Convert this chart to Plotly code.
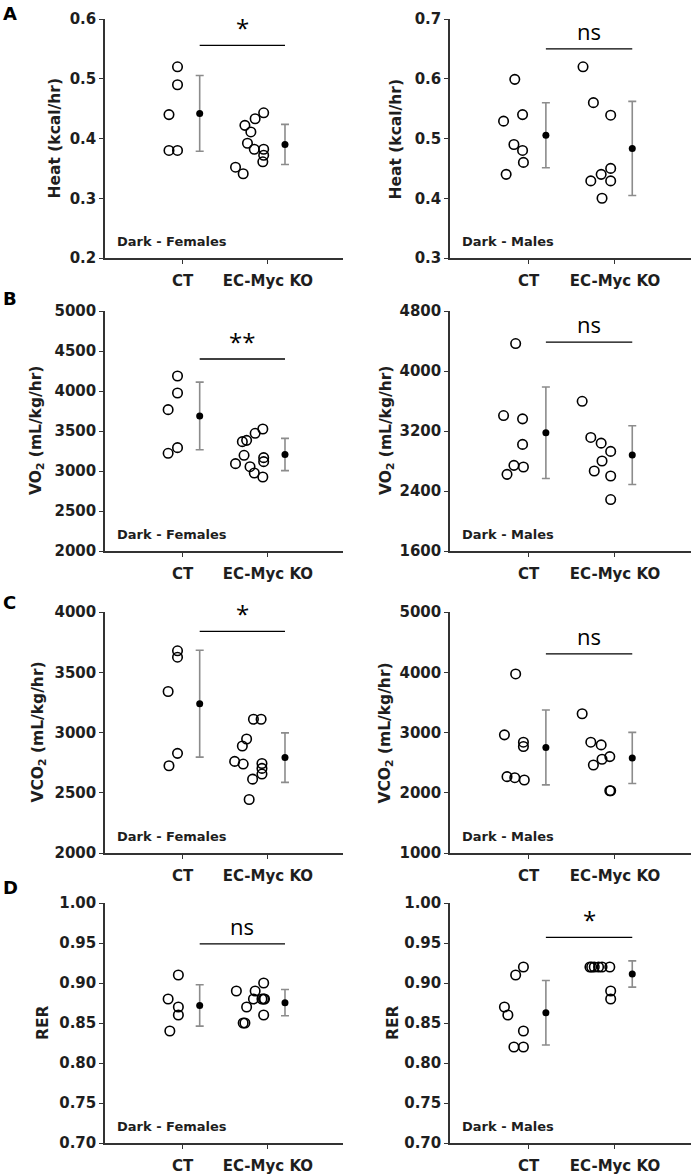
import numpy as np
import plotly.graph_objects as go

groups = ["CT", "EC-Myc KO"]

# values (dark phase)
heat_f_ct = [0.52, 0.49, 0.44, 0.38, 0.38]
heat_f_ko = [0.422, 0.411, 0.433, 0.443, 0.392, 0.382, 0.382, 0.372, 0.361, 0.352, 0.341]
heat_m_ct = [0.599, 0.529, 0.540, 0.490, 0.480, 0.460, 0.440]
heat_m_ko = [0.620, 0.560, 0.539, 0.450, 0.440, 0.429, 0.429, 0.400]

vo2_f_ct = [4188, 3975, 3767, 3292, 3221]
vo2_f_ko = [3092, 3196, 3367, 3383, 3471, 3525, 3054, 2975, 2925, 3167, 3117]
vo2_m_ct = [4366, 3406, 3362, 3021, 2742, 2720, 2622]
vo2_m_ko = [3596, 3114, 3038, 2928, 2800, 2667, 2600, 2286]

vco2_f_ct = [3678, 3625, 3340, 2827, 2724]
vco2_f_ko = [3110, 3110, 2946, 2888, 2760, 2738, 2743, 2702, 2655, 2613, 2444]
vco2_m_ct = [3972, 2961, 2839, 2767, 2267, 2250, 2211]
vco2_m_ko = [3311, 2839, 2794, 2600, 2556, 2461, 2033, 2033]

rer_f_ct = [0.91, 0.88, 0.87, 0.86, 0.84]
rer_f_ko = [0.89, 0.87, 0.85, 0.85, 0.89, 0.88, 0.90, 0.88, 0.88, 0.88, 0.86]
rer_m_ct = [0.92, 0.91, 0.87, 0.86, 0.84, 0.82, 0.82]
rer_m_ko = [0.92, 0.92, 0.92, 0.92, 0.92, 0.92, 0.89, 0.88]

# horizontal jitter of the open circles (fraction of group spacing)
heat_f_ct_dx = [-0.06, -0.06, -0.16, -0.16, -0.06]
heat_f_ko_dx = [-0.27, -0.2, -0.15, -0.05, -0.24, -0.16, -0.05, -0.05, -0.06, -0.38, -0.29]
heat_m_ct_dx = [-0.16, -0.29, -0.07, -0.17, -0.07, -0.06, -0.26]
heat_m_ko_dx = [-0.37, -0.25, -0.05, -0.05, -0.16, -0.28, -0.05, -0.15]
vo2_f_ct_dx = [-0.06, -0.06, -0.17, -0.06, -0.17]
vo2_f_ko_dx = [-0.38, -0.28, -0.3, -0.25, -0.15, -0.06, -0.21, -0.16, -0.06, -0.05, -0.05]
vo2_m_ct_dx = [-0.15, -0.29, -0.07, -0.07, -0.17, -0.06, -0.25]
vo2_m_ko_dx = [-0.38, -0.28, -0.16, -0.05, -0.15, -0.24, -0.05, -0.05]
vco2_f_ct_dx = [-0.06, -0.06, -0.17, -0.06, -0.16]
vco2_f_ko_dx = [-0.17, -0.08, -0.25, -0.3, -0.39, -0.29, -0.07, -0.07, -0.07, -0.18, -0.22]
vco2_m_ct_dx = [-0.15, -0.28, -0.06, -0.06, -0.25, -0.16, -0.05]
vco2_m_ko_dx = [-0.38, -0.28, -0.16, -0.06, -0.15, -0.25, -0.06, -0.05]
rer_f_ct_dx = [-0.05, -0.17, -0.05, -0.05, -0.15]
rer_f_ko_dx = [-0.37, -0.25, -0.29, -0.27, -0.15, -0.17, -0.05, -0.07, -0.04, -0.05, -0.05]
rer_m_ct_dx = [-0.06, -0.15, -0.28, -0.24, -0.06, -0.17, -0.06]
rer_m_ko_dx = [-0.29, -0.27, -0.24, -0.19, -0.15, -0.06, -0.05, -0.05]

panels = [
    # ct, ko, ct_dx, ko_dx, title, yrange, dtick, tickformat, sex, sig, sig level
    (heat_f_ct, heat_f_ko, heat_f_ct_dx, heat_f_ko_dx, "Heat (kcal/hr)", [0.2, 0.6], 0.1, ".1f", "Females", "*", 0.89),
    (heat_m_ct, heat_m_ko, heat_m_ct_dx, heat_m_ko_dx, "Heat (kcal/hr)", [0.3, 0.7], 0.1, ".1f", "Males", "ns", 0.875),
    (vo2_f_ct, vo2_f_ko, vo2_f_ct_dx, vo2_f_ko_dx, "VO<sub>2</sub> (mL/kg/hr)", [2000, 5000], 500, "d", "Females", "**", 0.80),
    (vo2_m_ct, vo2_m_ko, vo2_m_ct_dx, vo2_m_ko_dx, "VO<sub>2</sub> (mL/kg/hr)", [1600, 4800], 800, "d", "Males", "ns", 0.87),
    (vco2_f_ct, vco2_f_ko, vco2_f_ct_dx, vco2_f_ko_dx, "VCO<sub>2</sub> (mL/kg/hr)", [2000, 4000], 500, "d", "Females", "*", 0.92),
    (vco2_m_ct, vco2_m_ko, vco2_m_ct_dx, vco2_m_ko_dx, "VCO<sub>2</sub> (mL/kg/hr)", [1000, 5000], 1000, "d", "Males", "ns", 0.826),
    (rer_f_ct, rer_f_ko, rer_f_ct_dx, rer_f_ko_dx, "RER", [0.7, 1.0], 0.05, ".2f", "Females", "ns", 0.83),
    (rer_m_ct, rer_m_ko, rer_m_ct_dx, rer_m_ko_dx, "RER", [0.7, 1.0], 0.05, ".2f", "Males", "*", 0.857),
]

W, H = 699, 1175
col_x = [(105, 343), (450, 691)]
row_y = [(19, 258), (311, 551), (612, 853), (903, 1143)]
title_x = [[54, 395], [37, 387], [38, 385], [43, 393]]
letters = ["A", "B", "C", "D"]
letter_y = [13, 298, 602, 887]

BOLD = "DejaVu Sans"
ink = "#1e1e1e"
fig = go.Figure()
layout = dict(width=W, height=H, margin=dict(l=0, r=0, t=0, b=0, autoexpand=False),
              plot_bgcolor="white", paper_bgcolor="white", showlegend=False)
annotations = []
shapes = []

for i, (ct, ko, ct_dx, ko_dx, title, yr, dt, fmt, sex, sig, sig_y) in enumerate(panels):
    r, c = divmod(i, 2)
    n = i + 1
    xa = "x" if n == 1 else f"x{n}"
    ya = "y" if n == 1 else f"y{n}"
    x0, x1 = col_x[c]
    y0, y1 = row_y[r]
    layout[f"xaxis{'' if n == 1 else n}"] = dict(
        domain=[x0 / W, x1 / W], anchor=ya, range=[0.09, 2.88], automargin=False,
        tickvals=[1, 2], ticktext=groups, ticks="outside", ticklen=4,
        tickcolor="#333", showline=True, linecolor="#333", linewidth=1.5,
        showgrid=False, zeroline=False, ticklabelstandoff=4,
        tickfont=dict(family=BOLD, size=15, color=ink, weight="bold"))
    layout[f"yaxis{'' if n == 1 else n}"] = dict(
        domain=[1 - y1 / H, 1 - y0 / H], anchor=xa, range=yr, dtick=dt, automargin=False,
        tick0=yr[0], tickformat=fmt, ticks="outside", ticklen=4,
        tickcolor="#333", showline=True, linecolor="#333", linewidth=1.5,
        showgrid=False, zeroline=False,
        tickfont=dict(family=BOLD, size=15, color=ink, weight="bold"))

    for g, vals, dx in [(1, ct, ct_dx), (2, ko, ko_dx)]:
        vals = np.array(vals, dtype=float)
        fig.add_trace(go.Scatter(
            x=g + np.array(dx), y=vals, mode="markers", xaxis=xa, yaxis=ya,
            marker=dict(symbol="circle-open", size=9.5, color="black",
                        line=dict(width=1.6, color="black"))))
        fig.add_trace(go.Scatter(
            x=[g + 0.2], y=[vals.mean()], mode="markers", xaxis=xa, yaxis=ya,
            error_y=dict(type="data", array=[vals.std(ddof=1)], color="#8c8c8c",
                         thickness=1.6, width=4),
            marker=dict(size=7, color="black")))

    # significance bar
    shapes.append(dict(type="line", xref=xa, yref=f"{ya} domain", x0=1.2, x1=2.2,
                       y0=sig_y, y1=sig_y, line=dict(color="black", width=1.3)))
    annotations.append(dict(xref=xa, yref=f"{ya} domain", x=1.7, y=sig_y,
                            text=sig, showarrow=False, yanchor="bottom",
                            yshift=-1 if sig != "ns" else 1,
                            font=dict(family="Open Sans", size=22 if sig == "ns" else 24, color="black")))
    # group label inside plot
    annotations.append(dict(xref=f"{xa} domain", yref=f"{ya} domain", x=0.04, y=0.07,
                            text=f"Dark - {sex}", showarrow=False, xanchor="left",
                            yanchor="middle",
                            font=dict(family=BOLD, size=13, color=ink, weight="bold")))
    # y axis title
    annotations.append(dict(xref="paper", yref="paper", x=title_x[r][c] / W,
                            y=1 - (y0 + y1) / 2 / H, text=title, textangle=-90,
                            showarrow=False, xanchor="center", yanchor="middle",
                            font=dict(family=BOLD, size=15.5, color=ink, weight="bold")))

for r in range(4):
    annotations.append(dict(xref="paper", yref="paper", x=1 / W, y=1 - letter_y[r] / H,
                            text=letters[r], showarrow=False, xanchor="left", yanchor="middle",
                            font=dict(family=BOLD, size=18, color="black", weight="bold")))

layout["annotations"] = annotations
layout["shapes"] = shapes
fig.update_layout(**layout)
fig.write_html("out.html", config={"displayModeBar": False},
               post_script="document.body.style.margin='0';")
